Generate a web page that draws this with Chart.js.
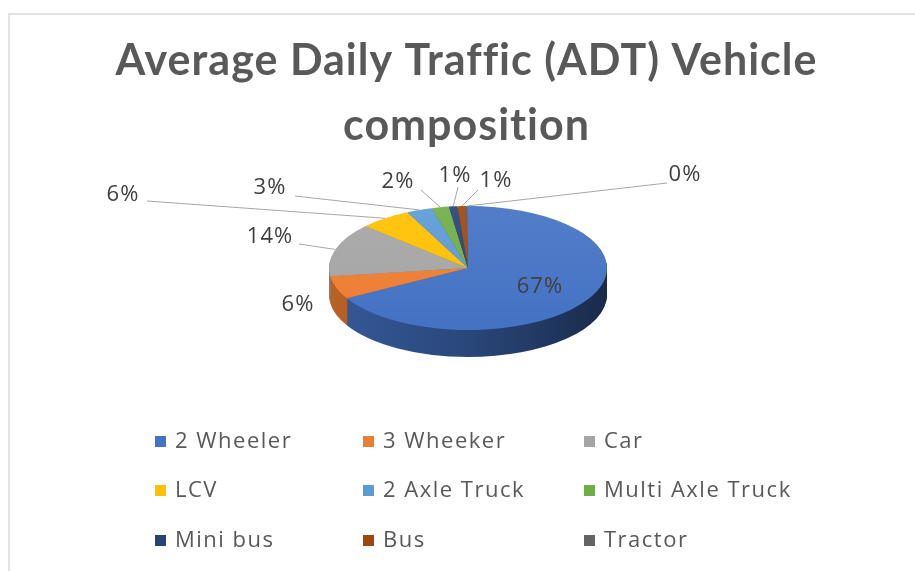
<!DOCTYPE html>
<html>
<head>
<meta charset="utf-8">
<title>ADT Vehicle composition</title>
<script src="https://cdn.jsdelivr.net/npm/chart.js@4.4.1/dist/chart.umd.min.js"></script>
<style>
    html, body { margin: 0; padding: 0; background: #fff; }
</style>
</head>
<body>
<canvas id="adtChart" width="915" height="571"></canvas>
<script>
// ---- data ----
var vehicleTypes = ['2 Wheeler', '3 Wheeker', 'Car', 'LCV', '2 Axle Truck', 'Multi Axle Truck', 'Mini bus', 'Bus', 'Tractor'];
var sharePercent = [67, 6, 14, 6, 3, 2, 1, 1, 0.2];
var sliceColors = ['#4472C4', '#ED7D31', '#A5A5A5', '#FFC000', '#5B9BD5', '#70AD47', '#264478', '#9E480E', '#636363'];
var chartTitle = ['Average Daily Traffic (ADT) Vehicle', 'composition'];

// ---- layout (screen px) ----
var pie3d = { cx: 468, cy: 268, rx: 139, ry: 62, depth: 27 };
// label centre relative to pie centre, null = inside the slice
var labelSpots = [null, [-170, 37], [-198, -31], [-345, -73], [-198, -80], [-70, -86], [-13, -92], [28, -87], [217, -93]];
// where each leader line starts, relative to pie centre (null = no line)
var lineStarts = [null, null, [-169, -24], [-321, -67], [-173, -72], [-47, -78], [-10, -81], [10, -78], [199, -85]];
var legendCols = [155, 363, 584];
var legendRows = [441, 490, 540];

function shade(hex, f) {
    var n = parseInt(hex.slice(1), 16);
    var r = Math.round(((n >> 16) & 255) * f), g = Math.round(((n >> 8) & 255) * f), b = Math.round((n & 255) * f);
    return 'rgb(' + r + ',' + g + ',' + b + ')';
}

var tiltPie = {
    id: 'tiltPie',
    beforeDraw: function(chart) {
        var ctx = chart.ctx;
        ctx.save();
        ctx.strokeStyle = '#d9d9d9';
        ctx.lineWidth = 1.5;
        ctx.beginPath();
        ctx.moveTo(9, 571);
        ctx.lineTo(9, 14);
        ctx.lineTo(915, 14);
        ctx.stroke();
        ctx.restore();
        // the title is drawn next, give it a bit of spacing like the original
        ctx.letterSpacing = '1px';
    },
    beforeDatasetsDraw: function(chart) {
        var ctx = chart.ctx;
        ctx.letterSpacing = '0px';
        var meta = chart.getDatasetMeta(0);
        var first = meta.data[0];
        var ex = first.x, ey = first.y, r = first.outerRadius;
        var sx = pie3d.rx / r, sy = pie3d.ry / r;

        // side gradients, one per slice
        var sides = sliceColors.map(function(c) {
            var g = ctx.createLinearGradient(ex - r, 0, ex + r, 0);
            g.addColorStop(0, shade(c, 0.78));
            g.addColorStop(0.5, shade(c, 0.62));
            g.addColorStop(1, shade(c, 0.38));
            return g;
        });

        // stack thin copies downward to get the pie's thickness
        for (var d = pie3d.depth; d >= 1; d--) {
            ctx.save();
            ctx.translate(pie3d.cx, pie3d.cy + d);
            ctx.scale(sx, sy);
            ctx.translate(-ex, -ey);
            meta.data.forEach(function(arc, i) {
                ctx.beginPath();
                ctx.moveTo(arc.x, arc.y);
                ctx.arc(arc.x, arc.y, arc.outerRadius, arc.startAngle, arc.endAngle);
                ctx.closePath();
                ctx.fillStyle = sides[i];
                ctx.fill();
            });
            ctx.restore();
        }

        // top face is drawn by chart.js itself, squashed into the ellipse
        ctx.save();
        ctx.translate(pie3d.cx, pie3d.cy);
        ctx.scale(sx, sy);
        ctx.translate(-ex, -ey);
    },
    afterDatasetsDraw: function(chart) {
        var ctx = chart.ctx;
        ctx.restore();

        // soft light on the top face
        ctx.save();
        var hl = ctx.createLinearGradient(0, pie3d.cy - pie3d.ry, 0, pie3d.cy + pie3d.ry);
        hl.addColorStop(0, 'rgba(255,255,255,0.08)');
        hl.addColorStop(1, 'rgba(255,255,255,0)');
        ctx.beginPath();
        ctx.ellipse(pie3d.cx, pie3d.cy, pie3d.rx, pie3d.ry, 0, 0, Math.PI * 2);
        ctx.fillStyle = hl;
        ctx.fill();
        ctx.restore();

        var meta = chart.getDatasetMeta(0);
        var total = sharePercent.reduce(function(a, b) { return a + b; }, 0);

        ctx.save();
        ctx.font = '22px "Open Sans"';
        ctx.letterSpacing = '1px';
        ctx.textAlign = 'center';
        ctx.textBaseline = 'middle';
        meta.data.forEach(function(arc, i) {
            var mid = (arc.startAngle + arc.endAngle) / 2;
            var edgeX = pie3d.cx + pie3d.rx * Math.cos(mid);
            var edgeY = pie3d.cy + pie3d.ry * Math.sin(mid);
            var txt = Math.round(sharePercent[i] / total * 100) + '%';
            var lx, ly;
            if (labelSpots[i] === null) {
                lx = pie3d.cx + pie3d.rx * 0.6 * Math.cos(mid);
                ly = pie3d.cy + pie3d.ry * 0.6 * Math.sin(mid);
            } else {
                lx = pie3d.cx + labelSpots[i][0];
                ly = pie3d.cy + labelSpots[i][1];
            }
            if (lineStarts[i]) {
                ctx.strokeStyle = '#a6a6a6';
                ctx.lineWidth = 1;
                ctx.beginPath();
                ctx.moveTo(pie3d.cx + lineStarts[i][0], pie3d.cy + lineStarts[i][1]);
                ctx.lineTo(edgeX, edgeY);
                ctx.stroke();
            }
            ctx.fillStyle = '#404040';
            ctx.fillText(txt, lx, ly);
        });
        ctx.restore();
    },
    afterDraw: function(chart) {
        var ctx = chart.ctx;
        ctx.save();
        ctx.font = '22px "Open Sans"';
        ctx.letterSpacing = '1.5px';
        ctx.textAlign = 'left';
        ctx.textBaseline = 'middle';
        vehicleTypes.forEach(function(name, i) {
            var x = legendCols[i % 3], y = legendRows[Math.floor(i / 3)];
            ctx.fillStyle = sliceColors[i];
            ctx.fillRect(x, y - 5, 11, 11);
            ctx.fillStyle = '#595959';
            ctx.fillText(name, x + 20, y + 1);
        });
        ctx.restore();
    }
};

var ctx = document.getElementById('adtChart').getContext('2d');
var adtChart = new Chart(ctx, {
    type: 'pie',
    data: {
        labels: vehicleTypes,
        datasets: [{
            data: sharePercent,
            backgroundColor: sliceColors,
            borderWidth: 0,
            clip: false
        }]
    },
    options: {
        responsive: false,
        animation: false,
        events: [],
        layout: { padding: { left: 38, right: 20, bottom: 20 } },
        plugins: {
            legend: { display: false },
            tooltip: { enabled: false },
            title: {
                display: true,
                text: chartTitle,
                color: '#595959',
                font: { family: 'Lato', size: 43, weight: 'bold', lineHeight: 1.5 },
                padding: { top: 29, bottom: 10 }
            }
        }
    },
    plugins: [tiltPie]
});
</script>
</body>
</html>
